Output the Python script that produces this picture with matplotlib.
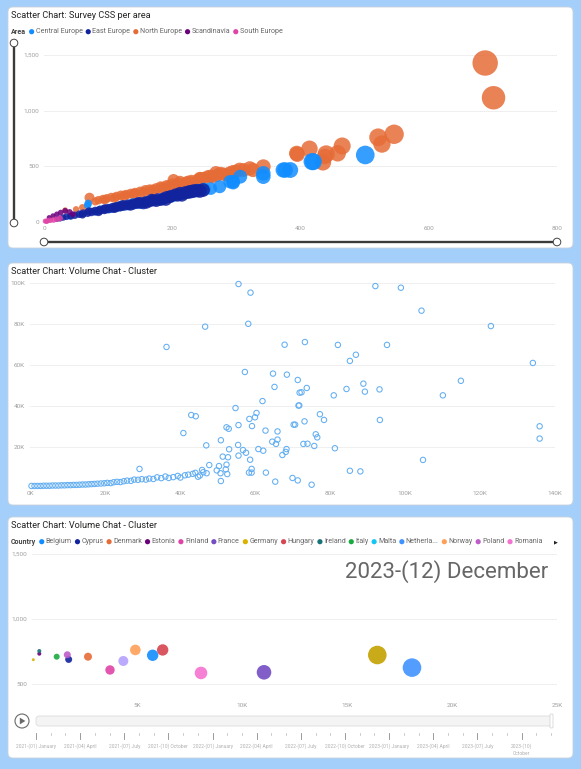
import matplotlib.pyplot as plt
from matplotlib.patches import FancyBboxPatch, Circle, Polygon
from matplotlib.ticker import FuncFormatter

W, H = 581, 769
plt.rcParams['font.family'] = ['Roboto', 'DejaVu Sans']

# ---------------- chart 1: survey CSS per area ----------------
areas = ['Central Europe', 'East Europe', 'North Europe', 'Scandinavia', 'South Europe']
area_colors = ['#118DFF', '#12239E', '#E66C37', '#6B007B', '#E044A7']

north_x = [688, 701, 546, 521, 527, 465, 458, 440, 435, 414, 438, 394, 395, 342, 326,
           311, 321, 300, 290, 280, 270, 262, 250, 243, 240, 230, 222, 212, 202, 200,
           191, 182, 175, 165, 158, 150, 142, 135, 128, 120, 113, 105, 98, 92, 85,
           80, 71, 60, 33, 50, 268, 256, 285, 232, 215,
           95, 110, 125, 140, 155, 170, 185, 195, 210, 225, 245, 260, 275, 295, 305]
north_y = [1428, 1116, 788, 761, 700, 683, 617, 611, 536, 658, 588, 617, 608, 497, 467,
           467, 482, 455, 440, 430, 420, 405, 395, 395, 380, 370, 355, 362, 377, 340,
           325, 315, 300, 290, 285, 272, 262, 255, 245, 240, 230, 222, 212, 205, 196,
           185, 218, 130, 108, 115, 445, 410, 420, 350, 330,
           200, 215, 235, 250, 265, 285, 305, 320, 345, 360, 390, 410, 435, 450, 470]
north_n = [1340, 1140, 780, 650, 620, 600, 560, 620, 560, 560, 500, 480, 480, 450, 420,
           400, 420, 380, 380, 360, 350, 340, 330, 320, 310, 300, 300, 290, 300, 280,
           270, 260, 250, 240, 230, 220, 210, 200, 200, 190, 180, 170, 160, 160, 150,
           140, 210, 100, 60, 80, 340, 330, 350, 290, 280,
           170, 190, 210, 230, 250, 270, 290, 300, 320, 330, 350, 360, 380, 400, 410]

east_x = [248, 243, 233, 228, 220, 212, 205, 198, 191, 186, 178, 170, 165, 158, 150,
          145, 139, 132, 125, 118, 113, 107, 100, 94, 87, 80, 74, 68, 61, 55,
          48, 42, 35, 30, 25, 20, 190, 175, 215, 160,
          60, 70, 85, 95, 110, 122, 135, 148, 155, 168, 182, 196, 208, 225, 238]
east_y = [287, 278, 278, 272, 262, 257, 245, 232, 222, 210, 205, 195, 185, 180, 172,
          168, 160, 155, 148, 140, 135, 128, 120, 112, 106, 98, 90, 82, 78, 70,
          60, 52, 48, 40, 32, 26, 200, 188, 240, 170,
          65, 95, 92, 118, 125, 150, 150, 175, 165, 200, 198, 225, 240, 268, 282]
east_n = [390, 380, 380, 370, 360, 350, 330, 320, 320, 310, 300, 290, 280, 270, 260,
          250, 250, 240, 230, 220, 210, 200, 190, 180, 170, 160, 150, 140, 130, 120,
          110, 100, 95, 85, 80, 70, 310, 290, 340, 260,
          120, 140, 160, 180, 200, 220, 240, 260, 270, 290, 300, 320, 340, 360, 370]

central_x = [501, 418, 420, 384, 376, 373, 342, 342, 306, 295, 295, 290, 274, 260, 176,
             145, 139, 103, 69, 68, 120, 160, 200, 88, 40, 230, 250,
             110, 130, 150, 185, 215, 240, 80, 58]
central_y = [602, 542, 542, 467, 467, 467, 437, 407, 407, 362, 353, 362, 317, 300, 197,
             167, 167, 120, 167, 150, 140, 182, 230, 110, 50, 270, 295,
             130, 150, 165, 205, 250, 285, 95, 70]
central_n = [720, 600, 600, 520, 500, 480, 440, 440, 400, 380, 380, 370, 350, 330, 260,
             230, 230, 170, 120, 110, 190, 240, 290, 150, 80, 330, 350,
             180, 210, 230, 270, 310, 340, 130, 100]

scandi_x = [8, 14, 20, 26, 33, 40, 45]
scandi_y = [40, 55, 70, 85, 100, 90, 70]
scandi_n = [50, 55, 60, 65, 70, 70, 70]

south_x = [2, 6, 10, 15, 20, 25, 4]
south_y = [8, 12, 15, 18, 25, 33, 4]
south_n = [55, 60, 60, 65, 65, 70, 50]

# ---------------- chart 2: volume chat - cluster (thousands) ----------------
chat_x = [55.6, 58.8, 46.7, 58.2, 36.4, 67.9, 57.3, 64.8, 68.5, 71.4, 65.2, 71.9, 71.6, 62.0, 54.8,
          60.4, 60.0, 58.5, 59.2, 55.6, 52.4, 53.0, 43.0, 44.2, 40.9, 62.8, 66.0, 50.9, 47.0, 55.5,
          64.6, 65.6, 66.0, 56.8, 57.6, 55.6, 60.9, 62.2, 58.7, 51.4, 52.8, 53.1, 68.4, 68.2, 67.3,
          70.7, 70.3, 52.4, 50.4, 49.8, 47.8, 50.9, 50.8, 52.6, 52.2, 59.1, 59.1, 58.4, 62.9, 65.4,
          70.0, 71.4, 29.2, 45.9, 47.1, 44.8,
          92.1, 98.9, 104.4, 122.9, 73.3, 82.1, 95.2, 86.9, 85.3, 134.1, 114.9, 73.8, 72.4, 84.4,
          88.9, 89.3, 93.2, 81.0, 110.1, 71.8, 77.3, 78.4, 73.2, 93.3, 135.9, 135.9, 76.2, 76.6,
          72.9, 74.0, 75.8, 81.3, 104.8, 85.3, 88.1, 75.1,
          0.4, 1.2, 2.0, 2.8, 3.6, 4.4, 5.2, 6.0, 6.8, 7.6, 8.4, 9.2, 10.0, 10.8, 11.6,
          12.4, 13.2, 14.0, 14.8, 15.6, 16.4, 17.2, 18.0, 18.9, 19.8, 20.6, 21.5, 22.3, 23.2, 24.1,
          25.0, 25.9, 26.9, 27.8, 28.8, 29.8, 30.9, 31.8, 32.9, 33.9, 35.0, 36.1, 37.0, 38.2, 39.4,
          40.1, 41.3, 42.2, 43.4, 44.1, 45.3, 46.2]
chat_y = [99.5, 95.3, 78.7, 80.1, 68.8, 69.9, 56.6, 55.8, 55.3, 52.7, 49.3, 46.5, 40.2, 42.4, 39.0,
          36.6, 34.5, 33.7, 30.2, 30.7, 29.6, 28.9, 35.6, 35.0, 26.8, 28.0, 27.6, 23.3, 20.8, 21.0,
          22.6, 21.5, 23.6, 18.5, 17.2, 15.8, 19.0, 18.2, 13.8, 15.3, 15.0, 18.9, 19.0, 17.6, 16.1,
          30.9, 30.9, 11.4, 10.7, 8.6, 11.2, 3.4, 7.2, 6.8, 9.1, 9.3, 7.5, 7.5, 7.5, 3.1,
          4.9, 3.7, 9.3, 8.8, 7.2, 5.5,
          98.5, 97.7, 86.5, 79.0, 71.2, 69.8, 69.8, 65.0, 62.0, 61.0, 52.3, 48.8, 46.7, 48.3,
          50.9, 47.0, 48.1, 45.2, 45.2, 40.3, 36.0, 33.2, 32.5, 33.2, 30.1, 24.1, 26.2, 24.7,
          21.5, 21.6, 20.5, 19.4, 13.7, 8.4, 8.1, 1.6,
          1.0, 1.0, 1.0, 1.0, 1.1, 1.1, 1.1, 1.2, 1.2, 1.2, 1.3, 1.3, 1.4, 1.4, 1.5,
          1.5, 1.6, 1.7, 1.7, 1.8, 1.9, 2.0, 2.1, 2.2, 2.3, 2.5, 2.4, 2.8, 3.0, 2.9,
          3.3, 3.6, 3.5, 4.1, 4.0, 4.3, 4.1, 4.6, 4.4, 5.2, 4.8, 5.6, 4.9, 5.3, 5.9,
          5.1, 6.2, 6.5, 6.9, 7.4, 6.1, 7.7]

# ---------------- chart 3: volume chat - cluster, play axis ----------------
legend_countries = ['Belgium', 'Cyprus', 'Denmark', 'Estonia', 'Finland', 'France', 'Germany',
                    'Hungary', 'Ireland', 'Italy', 'Malta', 'Netherla...', 'Norway', 'Poland', 'Romania']
legend_colors = ['#118DFF', '#12239E', '#E66C37', '#6B007B', '#E044A7', '#744EC2', '#D9B300',
                 '#D64550', '#197278', '#1AAB40', '#15C6F4', '#4092FF', '#FFA058', '#BE5DC9', '#F472D0']

countries = ['Belgium', 'Cyprus', 'Denmark', 'Estonia', 'Finland', 'France', 'Germany', 'Hungary',
             'Ireland', 'Italy', 'Netherlands', 'Norway', 'Poland', 'Romania', 'Slovakia', 'Spain']
country_colors = ['#118DFF', '#12239E', '#E66C37', '#6B007B', '#E044A7', '#744EC2', '#D9B300', '#D64550',
                  '#197278', '#1AAB40', '#4092FF', '#FFA058', '#BE5DC9', '#F472D0', '#B5A1FF', '#C4A200']
country_volume = [5746, 1746, 2667, 348, 3714, 11048, 63, 6222,
                  348, 1176, 18095, 4921, 1681, 8048, 4349, 16443]
country_css = [721, 689, 710, 733, 608, 590, 687, 762,
               754, 710, 626, 762, 725, 585, 677, 723]
country_chats = [2690, 1014, 1325, 331, 1829, 4412, 186, 2690,
                 331, 745, 7160, 2326, 1014, 3286, 2070, 7160]

frame_labels = ['2021-(01) January', '2021-(04) April', '2021-(07) July', '2021-(10) October',
                '2022-(01) January', '2022-(04) April', '2022-(07) July', '2022-(10) October',
                '2023-(01) January', '2023-(04) April', '2023-(07) July', '2023-(10)\nOctober']
current_frame = '2023-(12) December'
n_months = 36

# ---------------- layout ----------------
fig = plt.figure(figsize=(W / 100, H / 100), dpi=100)
fig.patch.set_facecolor('#a3cffa')
bg = fig.add_axes([0, 0, 1, 1])
bg.set_xlim(0, W)
bg.set_ylim(H, 0)
bg.axis('off')

title_c = '#252423'
tick_c = '#a0a0a0'
grid_c = '#d4d4d4'


def rect(x0, y0, x1, y1):
    return [x0 / W, 1 - y1 / H, (x1 - x0) / W, (y1 - y0) / H]


def panel(y0, y1):
    bg.add_patch(FancyBboxPatch((8, y0), 565, y1 - y0, boxstyle='round,pad=0,rounding_size=5',
                                fc='white', ec='#c9d3dc', lw=0.6))


def style(ax, xticks, yticks, xfmt, yfmt, xpad, ypad=3.6):
    ax.set_facecolor('none')
    for s in ax.spines.values():
        s.set_visible(False)
    ax.set_xticks(xticks)
    ax.set_yticks(yticks)
    ax.xaxis.set_major_formatter(FuncFormatter(xfmt))
    ax.yaxis.set_major_formatter(FuncFormatter(yfmt))
    ax.tick_params(axis='x', length=0, labelsize=4.6, labelcolor=tick_c, pad=xpad)
    ax.tick_params(axis='y', length=0, labelsize=4.6, labelcolor=tick_c, pad=ypad)
    ax.yaxis.grid(True, color=grid_c, lw=0.6, ls=(0, (1, 1.4)))
    ax.set_axisbelow(True)


def legend_row(x, y, title, names, colors, size=5.1):
    r = fig.canvas.get_renderer()
    t = bg.text(x, y, title, fontsize=size, fontweight='bold', color='#444444', va='center')
    x += t.get_window_extent(r).width + 5.5
    for name, c in zip(names, colors):
        bg.add_patch(Circle((x, y), 2.6, color=c, lw=0))
        t = bg.text(x + 4, y, name, fontsize=size, color='#666666', va='center')
        x += 4 + t.get_window_extent(r).width + 5.6
    return x


panel(7, 248)
panel(263, 505)
panel(517, 758)

# chart 1
bg.text(11, 16, 'Scatter Chart: Survey CSS per area', fontsize=6.6, color=title_c, va='center')
legend_row(11, 31.7, 'Area', areas, area_colors)

ax1 = fig.add_axes(rect(44, 55, 557, 222))
series = [(north_x, north_y, north_n, area_colors[2]),
          (central_x, central_y, central_n, area_colors[0]),
          (east_x, east_y, east_n, area_colors[1]),
          (scandi_x, scandi_y, scandi_n, area_colors[3]),
          (south_x, south_y, south_n, area_colors[4])]
for xs, ys, ns, c in series:
    ax1.scatter(xs, ys, s=[n / 4 for n in ns], color=c, alpha=0.85, lw=0, clip_on=False)
ax1.set_xlim(0, 800)
ax1.set_ylim(0, 1500)
style(ax1, [0, 200, 400, 600, 800], [0, 500, 1000, 1500],
      lambda v, p: f'{v:,.0f}', lambda v, p: f'{v:,.0f}', xpad=3.2)

# range sliders
bg.plot([14, 14], [43, 223], color='#3a3a3a', lw=1.7, solid_capstyle='butt')
bg.plot([44, 557], [242, 242], color='#3a3a3a', lw=1.7, solid_capstyle='butt')
for cx, cy in [(14, 43), (14, 223), (44, 242), (557, 242)]:
    bg.add_patch(Circle((cx, cy), 3.8, fc='white', ec='#444444', lw=0.7, zorder=5))

# chart 2
bg.text(11, 272, 'Scatter Chart: Volume Chat - Cluster', fontsize=6.6, color=title_c, va='center')
ax2 = fig.add_axes(rect(30, 283, 555, 488))
ax2.scatter(chat_x, chat_y, s=15, facecolors='none', edgecolors='#62aef2', lw=0.75, clip_on=False)
ax2.set_xlim(0, 140)
ax2.set_ylim(0, 100)
style(ax2, [0, 20, 40, 60, 80, 100, 120, 140], [20, 40, 60, 80, 100],
      lambda v, p: f'{v:.0f}K', lambda v, p: f'{v:.0f}K', xpad=2.2)

# chart 3
bg.text(11, 526, 'Scatter Chart: Volume Chat - Cluster', fontsize=6.6, color=title_c, va='center')
legend_row(11, 541.7, 'Country', legend_countries, legend_colors)
bg.text(555.7, 541.7, '\u25b6', fontsize=3.6, color='#222222', va='center', ha='center',
        family='DejaVu Sans')

ax3 = fig.add_axes(rect(32, 554, 557, 697))
ax3.scatter(country_volume, country_css, s=[n * 0.025 for n in country_chats],
            color=country_colors, alpha=0.9, lw=0, clip_on=False)
ax3.set_xlim(0, 25000)
ax3.set_ylim(400, 1500)
style(ax3, [5000, 10000, 15000, 20000, 25000], [500, 1000, 1500],
      lambda v, p: f'{v / 1000:.0f}K', lambda v, p: f'{v:,.0f}', xpad=4.0)
bg.text(548, 572, current_frame, fontsize=16, color='#666666', ha='right', va='center')

# play axis
bg.add_patch(Circle((22, 721), 7, fc='white', ec='#6a6a6a', lw=0.8))
bg.add_patch(Polygon([(19.8, 717.6), (19.8, 724.4), (25.4, 721)], closed=True, fc='#6a6a6a', lw=0))
bg.add_patch(FancyBboxPatch((36, 716), 516, 10, boxstyle='round,pad=0,rounding_size=3',
                            fc='#f4f4f4', ec='#dcdcdc', lw=0.6))
bg.add_patch(FancyBboxPatch((550, 714), 3, 14, boxstyle='round,pad=0,rounding_size=1',
                            fc='white', ec='#cfcfcf', lw=0.5))
step = (551 - 36) / (n_months - 1)
for i in range(n_months):
    tx = 36 + i * step
    if i % 3 == 0:
        bg.plot([tx, tx], [733, 738.5], color='#8a8a8a', lw=0.6)
    else:
        bg.plot([tx, tx], [733, 735], color='#b5b5b5', lw=0.5)
for i, lab in enumerate(frame_labels):
    tx = 36 + i * 3 * step
    bg.text(tx, 743.5, lab, fontsize=3.5, color='#b0b0b0', ha='center', va='top', linespacing=1.5)

fig.savefig('out.png', dpi=100, facecolor=fig.get_facecolor())
